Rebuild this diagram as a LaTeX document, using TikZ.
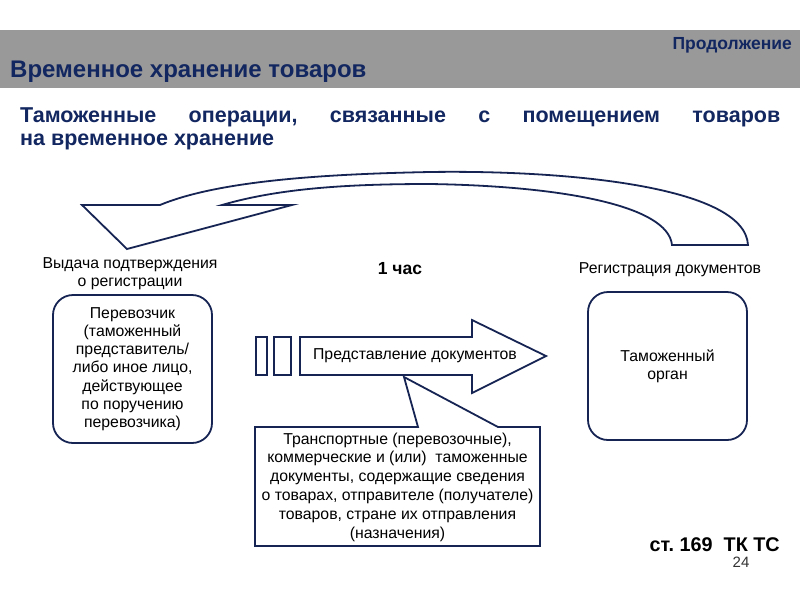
\documentclass[tikz,border=0pt]{standalone}
\usepackage{fontspec}
\setmainfont{Liberation Sans}
\frenchspacing
\definecolor{navy}{RGB}{22,36,84}
\definecolor{hdr}{RGB}{153,153,153}
\definecolor{hdrtxt}{RGB}{18,38,96}
\begin{document}
\begin{tikzpicture}[x=1pt,y=-1pt,
  line/.style={draw=navy,line width=1.8pt,line join=miter},
  rbox/.style={draw=navy,line width=1.8pt,rounded corners=20pt,minimum width=159pt,minimum height=148pt,align=center,inner sep=0pt},
  body/.style={font=\fontsize{15.8}{18.2}\selectfont,align=center,inner sep=0pt}]
\useasboundingbox (0,0) rectangle (800,600);
\fill[white] (0,0) rectangle (800,600);
% header
\fill[hdr] (0,30) rectangle (800,88);
\node[anchor=east,text=hdrtxt,font=\fontsize{17.5}{20}\selectfont\bfseries,inner sep=0pt] (cont) at (792,45) {Продолжение};
\node[anchor=west,text=hdrtxt,font=\fontsize{24}{28}\selectfont\bfseries,inner sep=0pt] (title) at (10,72) {Временное хранение товаров};
% subtitle
\node[anchor=west,text=hdrtxt,font=\fontsize{21.5}{25}\selectfont\bfseries,inner sep=0pt] (sub1) at (20,117) {\makebox[760pt][s]{Таможенные операции, связанные с помещением товаров}};
\node[anchor=west,text=hdrtxt,font=\fontsize{21.5}{25}\selectfont\bfseries,inner sep=0pt] (sub2) at (20,142) {на временное хранение};
% curved arrow
\path[line,fill=white] (748,245) .. controls (745,185) and (560,170) .. (430,172)
  .. controls (330,174) and (220,180) .. (160,205) -- (82,205) -- (127,249) -- (292,205) -- (222,205)
  .. controls (280,188) and (350,184) .. (430,184)
  .. controls (560,186) and (668,205) .. (672,245) -- cycle;
% labels
\node[body] (lab1) at (130,274) {Выдача подтверждения\\о регистрации};
\node[font=\fontsize{17.5}{20}\selectfont\bfseries,inner sep=0pt] (hour) at (400,269) {1 час};
\node[body] (lab2) at (670,270) {Регистрация документов};
% boxes
\node[rbox,body] (carrier) at (132.5,369) {Перевозчик\\(таможенный\\представитель/\\либо иное лицо,\\действующее\\по поручению\\перевозчика)};
\node[rbox,body] (customs) at (667.5,366) {Таможенный\\орган};
% small rects and big arrow
\draw[line] (256,337) rectangle (267,375);
\draw[line] (274,337) rectangle (291,375);
\path[line,fill=white] (300,337) -- (472,337) -- (472,320) -- (546,356) -- (472,393) -- (472,375) -- (300,375) -- cycle;
\node[body] (docs) at (415,356) {Представление документов};
% callout
\path[line,fill=white] (255,427) -- (418,427) -- (404,377) -- (498,427) -- (540,427) -- (540,546) -- (255,546) -- cycle;
\node[body,font=\fontsize{15.8}{18.8}\selectfont] (note) at (397.5,487) {Транспортные (перевозочные),\\коммерческие и (или)\ \ таможенные\\документы, содержащие сведения\\о товарах, отправителе (получателе)\\товаров, стране их отправления\\(назначения)};
% footer
\node[anchor=east,font=\fontsize{19.8}{23}\selectfont\bfseries,inner sep=0pt] (ref) at (780,545) {ст. 169\ \ ТК ТС};
\node[font=\fontsize{15}{17}\selectfont,text=black!80,inner sep=0pt] (page) at (741,562) {24};
\end{tikzpicture}
\end{document}
